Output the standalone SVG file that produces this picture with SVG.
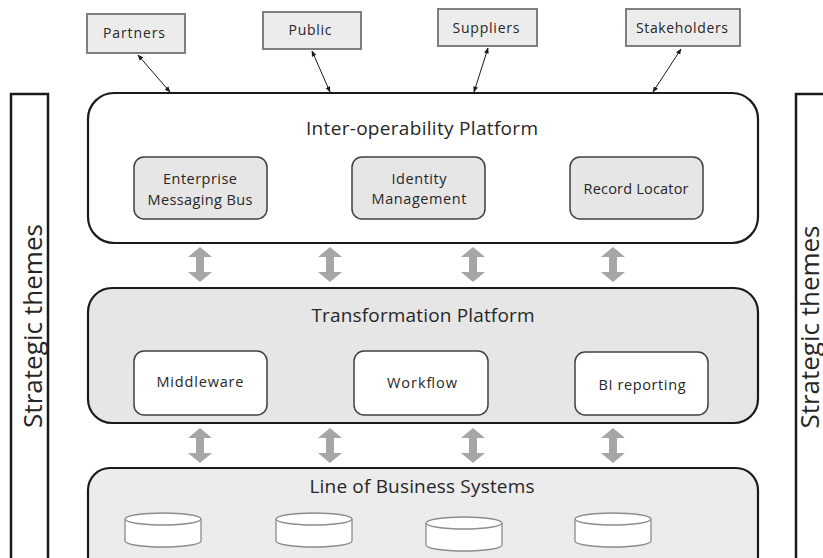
<svg xmlns="http://www.w3.org/2000/svg" width="823" height="558" viewBox="0 0 823 558">
<defs>
<style>
text{font-family:"Open Sans","Noto Sans","Liberation Sans",sans-serif;fill:#262626;text-anchor:middle}
.ext rect{fill:#ececec;stroke:#7f7f7f;stroke-width:2}
.ext text{font-size:14px}
.plat{stroke:#1a1a1a;stroke-width:2.2}
.ptitle{font-size:19px}
.inner{stroke:#404040;stroke-width:1.5}
.itext{font-size:14.5px}
.side rect{fill:#fff;stroke:#1a1a1a;stroke-width:2.5}
.side text{font-size:26px}
.link{stroke:#1a1a1a;stroke-width:1;fill:none;marker-start:url(#ah);marker-end:url(#ah)}
.cyl{fill:#fff;stroke:#8c8c8c;stroke-width:1.3}
</style>
<marker id="ah" viewBox="0 0 10 10" refX="9" refY="5" markerWidth="6" markerHeight="6" orient="auto-start-reverse" markerUnits="userSpaceOnUse">
<path d="M0,1 L10,5 L0,9 Z" fill="#1a1a1a"/>
</marker>
<path id="garrow" d="M0,0 L12,10 L4,10 L4,25 L12,25 L0,35 L-12,25 L-4,25 L-4,10 L-12,10 Z" fill="#a6a6a6"/>
<g id="cyl">
<path class="cyl" d="M0,6 L0,28 A38,6 0 0 0 76,28 L76,6"/>
<ellipse class="cyl" cx="38" cy="6" rx="38" ry="6"/>
</g>
</defs>
<rect width="823" height="558" fill="#fff"/>

<g id="strategic-left" class="side">
<rect x="11" y="94" width="37" height="470"/>
<text transform="translate(42,326) rotate(-90)" textLength="204">Strategic themes</text>
</g>
<g id="strategic-right" class="side">
<rect x="796" y="94" width="40" height="470"/>
<text transform="translate(819,327) rotate(-90)" textLength="203">Strategic themes</text>
</g>

<g id="partners" class="ext"><rect x="87" y="14" width="98" height="39"/><text x="134" y="38" textLength="62">Partners</text></g>
<g id="public" class="ext"><rect x="263" y="12" width="98" height="37"/><text x="310" y="35" textLength="43">Public</text></g>
<g id="suppliers" class="ext"><rect x="438" y="9" width="99" height="37"/><text x="486" y="33" textLength="67">Suppliers</text></g>
<g id="stakeholders" class="ext"><rect x="626" y="9" width="114" height="37"/><text x="682" y="33" textLength="92">Stakeholders</text></g>

<g id="interop">
<rect class="plat" x="88" y="93" width="670" height="150" rx="26" fill="#fff"/>
<text class="ptitle" x="422" y="135" textLength="232">Inter-operability Platform</text>
<g id="esb"><rect class="inner" x="134" y="157" width="133" height="62" rx="10" fill="#e6e6e6"/><text class="itext" x="200" y="184" textLength="74">Enterprise</text><text class="itext" x="200" y="205" textLength="105">Messaging Bus</text></g>
<g id="idm"><rect class="inner" x="352" y="157" width="133" height="62" rx="10" fill="#e6e6e6"/><text class="itext" x="419" y="184" textLength="55">Identity</text><text class="itext" x="419" y="204" textLength="95">Management</text></g>
<g id="recloc"><rect class="inner" x="570" y="157" width="133" height="62" rx="10" fill="#e6e6e6"/><text class="itext" x="636" y="194" textLength="105">Record Locator</text></g>
</g>

<g id="transformation">
<rect class="plat" x="88" y="288" width="670" height="135" rx="24" fill="#e6e6e6"/>
<text class="ptitle" x="423" y="322" textLength="223">Transformation Platform</text>
<g id="middleware"><rect class="inner" x="134" y="351" width="133" height="64" rx="10" fill="#fff"/><text class="itext" x="200" y="387" textLength="87">Middleware</text></g>
<g id="workflow"><rect class="inner" x="354" y="351" width="134" height="64" rx="10" fill="#fff"/><text class="itext" x="422" y="388" textLength="70">Workflow</text></g>
<g id="bireporting"><rect class="inner" x="575" y="352" width="133" height="63" rx="10" fill="#fff"/><text class="itext" x="642" y="390" textLength="87">BI reporting</text></g>
</g>

<g id="lob">
<rect class="plat" x="88" y="468" width="670" height="120" rx="22" fill="#ececec"/>
<text class="ptitle" x="422" y="493" textLength="225">Line of Business Systems</text>
<use href="#cyl" x="125" y="513"/>
<use href="#cyl" x="276" y="513"/>
<use href="#cyl" x="426" y="517"/>
<use href="#cyl" x="575" y="513"/>
</g>

<g id="connectors">
<line class="link" x1="138" y1="55" x2="170" y2="92"/>
<line class="link" x1="312" y1="51" x2="330" y2="92"/>
<line class="link" x1="488" y1="48" x2="474" y2="92"/>
<line class="link" x1="681" y1="49" x2="653" y2="92"/>
<use href="#garrow" x="200" y="247"/>
<use href="#garrow" x="330" y="247"/>
<use href="#garrow" x="473" y="247"/>
<use href="#garrow" x="613" y="247"/>
<use href="#garrow" x="200" y="428"/>
<use href="#garrow" x="330" y="428"/>
<use href="#garrow" x="473" y="428"/>
<use href="#garrow" x="613" y="428"/>
</g>
</svg>
